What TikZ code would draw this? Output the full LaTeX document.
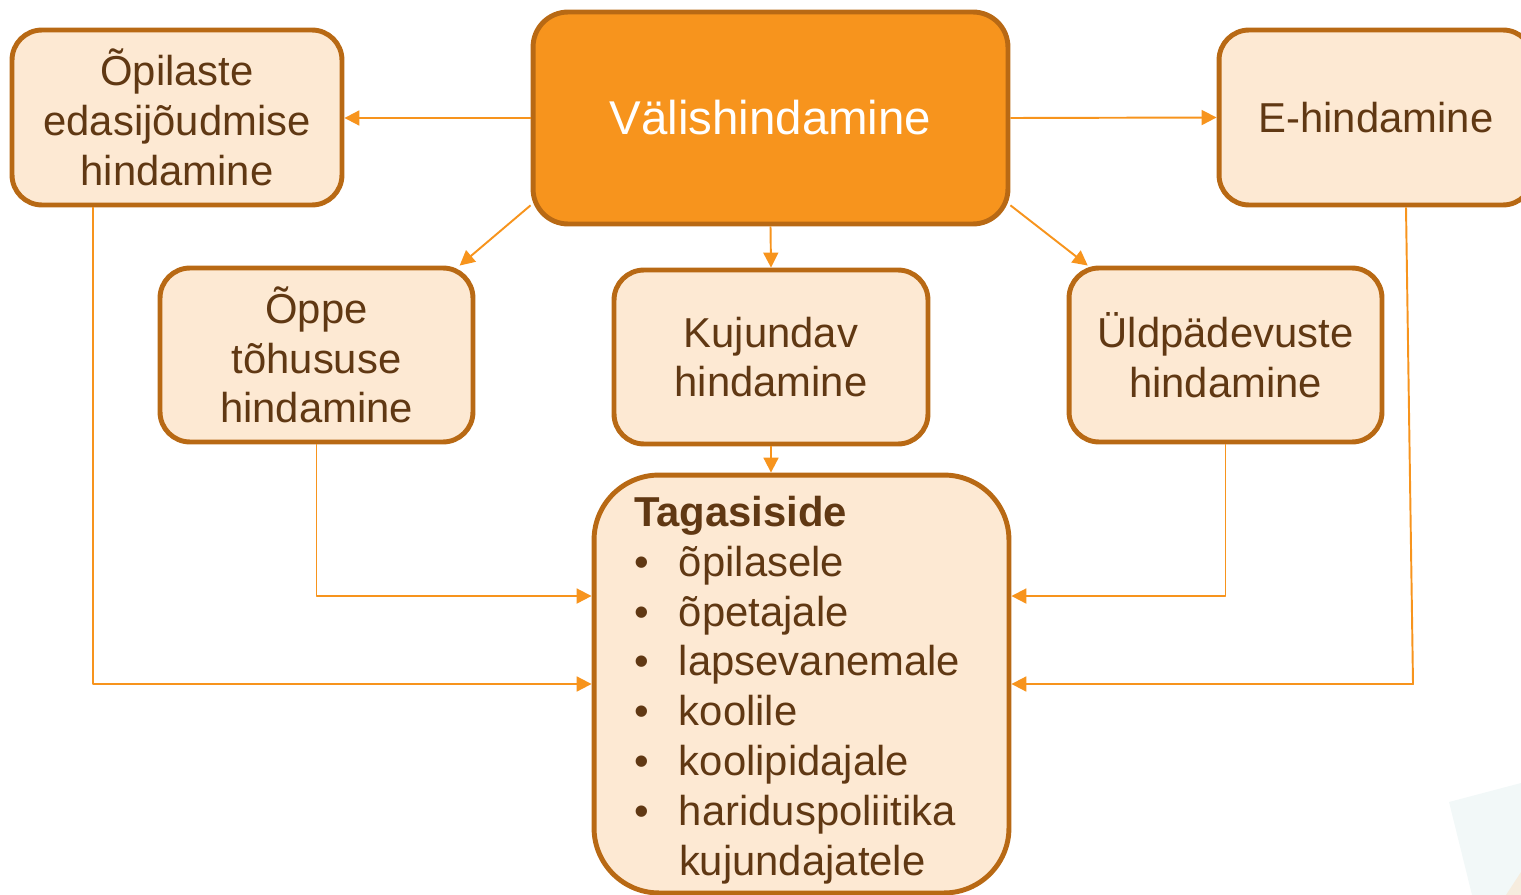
\documentclass[tikz,border=0pt]{standalone}
\usepackage{fontspec}
\setmainfont{Liberation Sans}
\usetikzlibrary{arrows.meta}
\definecolor{accent}{HTML}{F7941D}
\definecolor{rim}{HTML}{B86914}
\definecolor{peach}{HTML}{FDE9D3}
\definecolor{ink}{HTML}{603813}
\definecolor{haze}{HTML}{F2F8F8}
\definecolor{sand}{HTML}{F6ECDE}

\begin{document}
\begin{tikzpicture}[x=0.02cm,y=-0.02cm,line join=round,
  box/.style={draw=rim,line width=2.8pt,fill=peach,text=ink,rounded corners=0.6cm,
    align=center,inner sep=0pt,font=\fontsize{23.8}{28.35}\selectfont},
  link/.style={draw=accent,line width=1.1pt,-{Triangle[length=8.5pt,width=8.5pt]}}]
  \useasboundingbox (0,0) rectangle (1521,895);
  % faint slide decoration, bottom right
  \fill[haze] (1449,802) -- (1521,783) -- (1521,895) -- (1472,895) -- cycle;
  \fill[sand] (1506,895) -- (1521,872) -- (1521,895) -- cycle;

  \node[box,fill=accent,text=white,minimum width=9.5cm,minimum height=4.24cm,
    rounded corners=0.7cm,font=\fontsize{27}{32}\selectfont] (valis) at (770.5,118) {Välishindamine};
  \node[box,minimum width=6.6cm,minimum height=3.5cm] (opil) at (177,117.5) {Õpilaste\\edasijõudmise\\hindamine};
  \node[box,minimum width=6.28cm,minimum height=3.5cm] (ehind) at (1376,117.5) {E-hindamine};
  \node[box,minimum width=6.26cm,minimum height=3.48cm] (oppe) at (316.5,355) {Õppe\\tõhususe\\hindamine};
  \node[box,minimum width=6.28cm,minimum height=3.48cm] (kuj) at (771,357) {Kujundav\\hindamine};
  \node[box,minimum width=6.26cm,minimum height=3.48cm] (uld) at (1225.5,355) {Üldpädevuste\\hindamine};
  \node[box,align=left,text width=6.7cm,text height=24pt,minimum width=8.3cm,minimum height=8.36cm,
    rounded corners=1.3cm] (tag) at (801.5,684)
    {{\bfseries Tagasiside}\\
     \makebox[0.9cm][l]{•}õpilasele\\
     \makebox[0.9cm][l]{•}õpetajale\\
     \makebox[0.9cm][l]{•}lapsevanemale\\
     \makebox[0.9cm][l]{•}koolile\\
     \makebox[0.9cm][l]{•}koolipidajale\\
     \makebox[0.9cm][l]{•}hariduspoliitika\\
     \hspace*{0.9cm}kujundajatele};

  \draw[link] (valis.west) -- (valis.west -| opil.east);
  \draw[link] (valis.east) -- (ehind.west);
  \draw[link] (valis.200) -- (oppe.32.5);
  \draw[link] (valis.south) -- (kuj.north);
  \draw[link] (valis.340) -- (uld.147);
  \draw[link] (kuj.south) -- (kuj.south |- tag.north);
  \draw[link] (oppe.south) |- ([yshift=1.76cm]tag.west);
  \draw[link] (opil.227) |- (tag.west);
  \draw[link] (uld.south) |- ([yshift=1.76cm]tag.east);
  \coordinate (bend) at (1413,684);
  \draw[link] ([xshift=0.6cm]ehind.south) -- (bend) -- (tag.east);
\end{tikzpicture}
\end{document}
